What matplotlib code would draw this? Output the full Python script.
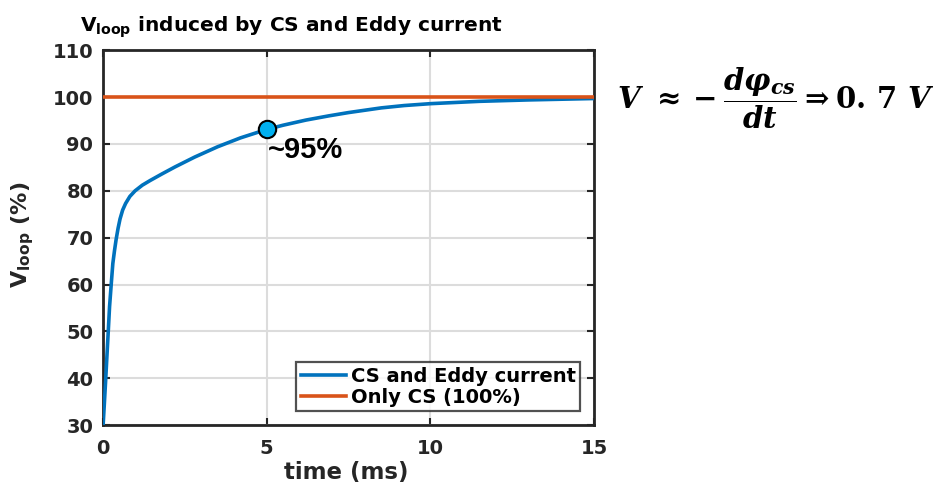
import matplotlib
matplotlib.use("Agg")
import matplotlib.pyplot as plt

# data
t_ms = [0, 0.04, 0.08, 0.12, 0.16, 0.20, 0.25, 0.30, 0.35, 0.40, 0.46, 0.52, 0.60,
        0.69, 0.82, 0.98, 1.2, 1.44, 1.8, 2.2, 2.8, 3.5, 4.2, 5, 5.5, 6.2, 6.9,
        7.5, 8.5, 9.2, 10, 11.5, 13, 15]
v_eddy = [29.6, 34.5, 39.5, 44.8, 50, 55.3, 60, 64.5, 67.2, 69.6, 72.0, 74.0, 75.9,
          77.3, 78.8, 80.0, 81.2, 82.2, 83.6, 85.1, 87.2, 89.4, 91.3, 93.1, 94.0, 95.1, 96.0,
          96.7, 97.7, 98.2, 98.6, 99.1, 99.4, 99.7]
cs_only_t = [0, 15]
cs_only_v = [100, 100]
mark_t = [5]
mark_v = [93.1]
x_ticks = [0, 5, 10, 15]
y_ticks = [30, 40, 50, 60, 70, 80, 90, 100, 110]

plt.rcParams["mathtext.fontset"] = "custom"
plt.rcParams["mathtext.rm"] = "DejaVu Serif:bold"
plt.rcParams["mathtext.it"] = "DejaVu Serif:italic:bold"
plt.rcParams["mathtext.bf"] = "DejaVu Serif:bold"

dark = "#262626"
fig = plt.figure(figsize=(9.46, 4.88), dpi=100)
ax = fig.add_axes([0.1089, 0.129, 0.519, 0.768])

ax.plot(t_ms, v_eddy, color="#0072BD", lw=2.6, label="CS and Eddy current", zorder=3,
        solid_joinstyle="round")
ax.plot(cs_only_t, cs_only_v, color="#D95319", lw=2.6, label="Only CS (100%)", zorder=3)
ax.plot(mark_t, mark_v, "o", ms=12.5, mfc="#00B0F0", mec="black", mew=1.5, zorder=4)
ax.text(5.05, 87.1, "~95%", fontsize=21, fontweight="bold", family="Liberation Sans",
        ha="left", va="baseline", color="black")

ax.set_xlim(0, 15)
ax.set_ylim(30, 110)
ax.set_xticks(x_ticks)
ax.set_yticks(y_ticks)
ax.grid(True, color="#dcdcdc", lw=1.5, zorder=0)
ax.tick_params(direction="in", top=True, right=True, length=5, width=1.5,
               colors=dark, labelsize=14)
ax.tick_params(axis="x", pad=10)
ax.tick_params(axis="y", pad=7)
for lbl in ax.get_xticklabels() + ax.get_yticklabels():
    lbl.set_fontweight("bold")
for sp in ax.spines.values():
    sp.set_linewidth(2)
    sp.set_color(dark)

leg = ax.legend(loc="lower right", frameon=True, fancybox=False,
                handlelength=2.3, handletextpad=0.25, labelspacing=0.1,
                borderpad=0.25, borderaxespad=0.7, prop={"weight": "bold", "size": 14})
leg.get_frame().set_edgecolor(dark)
leg.get_frame().set_linewidth(1.6)

fig.text(80 / 946, 1 - 32 / 488, r"$\mathbf{V}_{\mathbf{loop}}$ induced by CS and Eddy current",
         fontsize=14.5, fontweight="bold", color="black", ha="left", va="baseline",
         math_fontfamily="dejavusans")
fig.text(23 / 946, 1 - 235 / 488, r"$\mathbf{V}_{\mathbf{loop}}$ (%)", rotation=90,
         fontsize=16, fontweight="bold", color=dark, ha="center", va="center",
         math_fontfamily="dejavusans")
fig.text(346 / 946, 1 - 473 / 488, "time (ms)", fontsize=16.5, fontweight="bold",
         color=dark, ha="center", va="center")

fig.text(776 / 946, 1 - 98 / 488,
         r"$V\ \approx -\dfrac{d\varphi_{cs}}{dt}\Rightarrow \mathbf{0.}\,\mathbf{7}\ V$",
         fontsize=21, color="black", ha="center", va="center", math_fontfamily="custom")

fig.savefig("out.png", dpi=100)
